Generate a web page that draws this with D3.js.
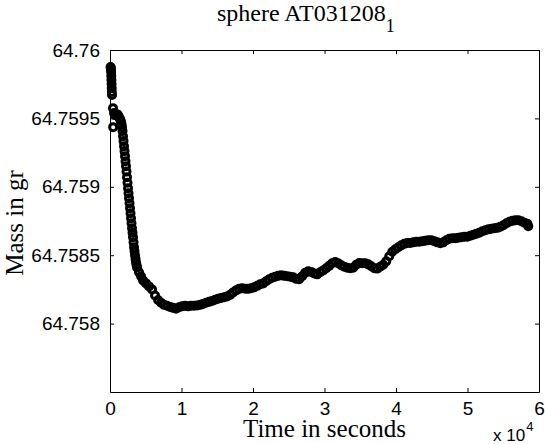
<!DOCTYPE html>
<html>
<head>
<meta charset="utf-8">
<script src="https://cdn.jsdelivr.net/npm/d3@7.9.0/dist/d3.min.js"></script>
<style>
  body { margin: 0; background: #fff; }
  svg { display: block; }
  .tick text { font-family: "Liberation Sans", Arial, sans-serif; font-size: 19px; fill: #000; }
  .lbl { font-family: "Liberation Serif", "Times New Roman", serif; fill: #000; }
</style>
</head>
<body>
<svg id="chart" width="545" height="444"></svg>
<script>
// time in seconds
const timeSec = [
  80, 110, 140, 160, 180, 200, 220, 240, 260, 280,
  420, 440,
  560, 700, 840, 980, 1120, 1260,
  1400, 1470, 1540, 1610, 1680, 1750, 1820, 1890, 1960, 2030,
  2100, 2170, 2240, 2310, 2380, 2450, 2520, 2590, 2660, 2730,
  2800, 2870, 2940, 3010, 3080, 3150, 3220, 3290, 3360, 3430,
  3500, 3570, 3640, 3710, 3780,
  4060, 4340, 4620, 5040, 5460, 5880, 6300, 6720, 7140, 7560,
  7980, 8400, 8820, 9240, 9660, 10080, 10500, 10920, 11340, 11760,
  12180, 12600, 13020, 13440, 13860, 14280, 14700, 15120, 15540, 15960,
  16380, 16800, 17220, 17640, 18060, 18480, 18900, 19320, 19740, 20160,
  20580, 21000, 21420, 21840, 22260, 22680, 23100, 23520, 23940, 24360,
  24780, 25200, 25620, 26040, 26460, 26880, 27300, 27720, 28140, 28560,
  28980, 29400, 29820, 30240, 30660, 31080, 31500, 31920, 32340, 32760,
  33180, 33600, 34020, 34440, 34860, 35280, 35700, 36120, 36540, 36960,
  37380, 37800, 38220, 38640, 39060, 39480, 39900, 40320, 40740, 41160,
  41580, 42000, 42420, 42840, 43260, 43680, 44100, 44520, 44940, 45360,
  45780, 46200, 46620, 47040, 47460, 47880, 48300, 48720, 49140, 49560,
  49980, 50400, 50820, 51240, 51660, 52080, 52500, 52920, 53340, 53760,
  54180, 54600, 55020, 55440, 55860, 56280, 56700, 57120, 57540, 57960,
  58380, 58500
];

// mass in gr
const massGr = [
  64.759876, 64.759868, 64.759854, 64.759839, 64.759810, 64.759780, 64.759751, 64.759722, 64.759693, 64.759671,
  64.759575, 64.759436,
  64.759539, 64.759524, 64.759528, 64.759531, 64.759524, 64.759510,
  64.759495, 64.759488, 64.759473, 64.759458, 64.759436, 64.759407, 64.759370, 64.759334, 64.759297, 64.759261,
  64.759224, 64.759187, 64.759151, 64.759111, 64.759070, 64.759030, 64.758990, 64.758953, 64.758917, 64.758880,
  64.758843, 64.758807, 64.758770, 64.758734, 64.758697, 64.758664, 64.758631, 64.758594, 64.758558, 64.758529,
  64.758499, 64.758473, 64.758448, 64.758429, 64.758411,
  64.758375, 64.758346, 64.758316, 64.758294, 64.758272, 64.758250, 64.758206, 64.758173, 64.758152, 64.758137,
  64.758130, 64.758122, 64.758115, 64.758109, 64.758119, 64.758126, 64.758130, 64.758126, 64.758130, 64.758130,
  64.758133, 64.758137, 64.758144, 64.758152, 64.758159, 64.758166, 64.758174, 64.758181, 64.758188, 64.758192,
  64.758199, 64.758210, 64.758228, 64.758243, 64.758254, 64.758258, 64.758255, 64.758254, 64.758258, 64.758265,
  64.758276, 64.758287, 64.758294, 64.758309, 64.758324, 64.758335, 64.758342, 64.758349, 64.758353, 64.758349,
  64.758346, 64.758342, 64.758338, 64.758327, 64.758324, 64.758346, 64.758371, 64.758382, 64.758378, 64.758367,
  64.758360, 64.758375, 64.758389, 64.758404, 64.758422, 64.758441, 64.758450, 64.758441, 64.758426, 64.758415,
  64.758408, 64.758404, 64.758408, 64.758430, 64.758443, 64.758441, 64.758441, 64.758433, 64.758419, 64.758404,
  64.758402, 64.758415, 64.758430, 64.758455, 64.758492, 64.758525, 64.758543, 64.758558, 64.758572, 64.758583,
  64.758590, 64.758590, 64.758594, 64.758598, 64.758598, 64.758602, 64.758605, 64.758609, 64.758609, 64.758602,
  64.758594, 64.758587, 64.758594, 64.758609, 64.758620, 64.758624, 64.758624, 64.758627, 64.758631, 64.758635,
  64.758635, 64.758642, 64.758649, 64.758657, 64.758664, 64.758675, 64.758682, 64.758689, 64.758693, 64.758697,
  64.758700, 64.758708, 64.758719, 64.758733, 64.758744, 64.758751, 64.758755, 64.758755, 64.758748, 64.758737,
  64.758730, 64.758712
];

const xTicks = [0, 10000, 20000, 30000, 40000, 50000, 60000];
const yTicks = [64.758, 64.7585, 64.759, 64.7595, 64.76];

const svg = d3.select("#chart");
const plotL = 110, plotR = 539, plotT = 50, plotB = 392;

const x = d3.scaleLinear().domain([0, 60000]).range([plotL, plotR]);
const y = d3.scaleLinear().domain([64.7575, 64.76]).range([plotB, plotT]);

// axes, ticks pointing inward like matlab
svg.append("g")
  .attr("transform", `translate(0,${plotB})`)
  .call(d3.axisBottom(x).tickValues(xTicks).tickSizeInner(-4).tickSizeOuter(0)
    .tickPadding(9.5).tickFormat(d => d / 10000));

svg.append("g")
  .attr("transform", `translate(0,${plotT})`)
  .call(d3.axisTop(x).tickValues(xTicks).tickSizeInner(-4).tickSizeOuter(0).tickFormat(""));

svg.append("g")
  .attr("transform", `translate(${plotL},0)`)
  .call(d3.axisLeft(y).tickValues(yTicks).tickSizeInner(-4).tickSizeOuter(0)
    .tickPadding(10).tickFormat(d3.format(".4~f")));

svg.append("g")
  .attr("transform", `translate(${plotR},0)`)
  .call(d3.axisRight(y).tickValues(yTicks).tickSizeInner(-4).tickSizeOuter(0).tickFormat(""));

svg.selectAll(".domain, .tick line").attr("stroke", "#000").attr("stroke-width", 1);

// markers (open circles, heavy overlap makes the band)
svg.append("g")
  .selectAll("circle")
  .data(timeSec.map((t, i) => [t, massGr[i]]))
  .enter()
  .append("circle")
  .attr("cx", d => x(d[0]))
  .attr("cy", d => y(d[1]))
  .attr("r", 3.5)
  .attr("fill", "none")
  .attr("stroke", "#000")
  .attr("stroke-width", 3);

// texts
const title = svg.append("text").attr("class", "lbl")
  .attr("x", 217).attr("y", 21).attr("font-size", 24);
title.append("tspan").text("sphere AT031208");
title.append("tspan").attr("font-size", 18).attr("dy", 11).text("1");

svg.append("text").attr("class", "lbl")
  .attr("x", (plotL + plotR) / 2).attr("y", 437)
  .attr("text-anchor", "middle").attr("font-size", 25)
  .text("Time in seconds");

svg.append("text").attr("class", "lbl")
  .attr("transform", `translate(23,${(plotT + plotB) / 2 + 2}) rotate(-90)`)
  .attr("text-anchor", "middle").attr("font-size", 25)
  .text("Mass in gr");

const mult = svg.append("text")
  .attr("font-family", "Liberation Sans, Arial, sans-serif")
  .attr("x", 493).attr("y", 441).attr("font-size", 17);
mult.append("tspan").text("x 10");
mult.append("tspan").attr("font-size", 13).attr("dy", -10).attr("dx", 1).text("4");
</script>
</body>
</html>
